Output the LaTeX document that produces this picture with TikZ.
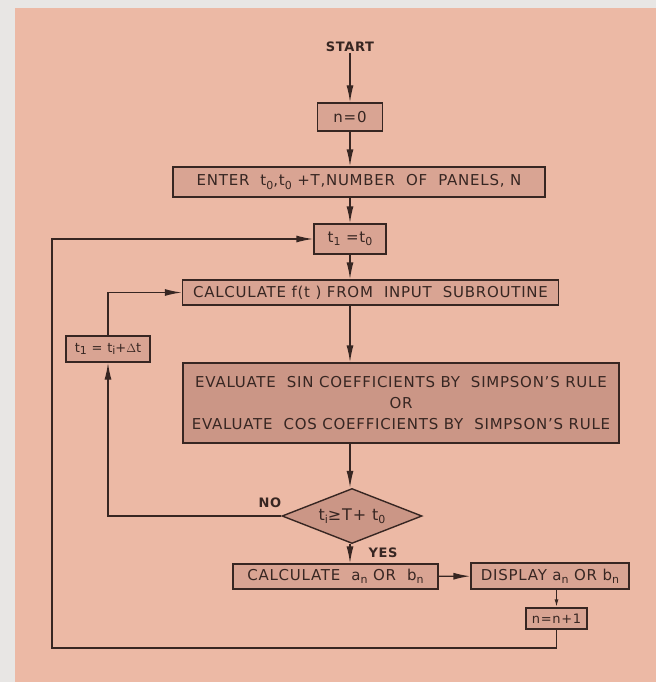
\documentclass[tikz,border=0pt]{standalone}
\usepackage{fontspec}
\setmainfont{DejaVu Sans}[LetterSpace=5]
\usepackage{tikz}
\usetikzlibrary{arrows.meta,shapes.geometric}
\usepackage{xcolor}
\definecolor{paper}{RGB}{232,230,228}
\definecolor{salmon}{RGB}{236,185,165}
\definecolor{boxfill}{RGB}{217,164,147}
\definecolor{darkfill}{RGB}{203,150,134}
\definecolor{ink}{RGB}{55,38,34}
\newcommand{\sub}[1]{\raisebox{-0.4ex}{\fontsize{11}{11}\selectfont #1}}

\begin{document}
\begin{tikzpicture}[x=1pt,y=-1pt,font=\fontsize{15}{17}\selectfont,>={Latex[length=17pt,width=7pt]},line width=1.4pt,draw=ink,text=ink,
box/.style={draw=ink,fill=boxfill,inner sep=0pt,align=center},
small/.style={font=\fontsize{13}{15}\selectfont},
lbl/.style={inner sep=0pt,font=\fontsize{13}{15}\selectfont\bfseries}]
\useasboundingbox (0,0) rectangle (656,682);
\fill[paper] (0,0) rectangle (656,682);
\fill[salmon] (15,8) rectangle (656,682);
\node[lbl](start) at (350,47){START};
\node[box,minimum width=65pt,minimum height=28pt](n0) at (350,117){n=0};
\node[box,minimum width=372pt,minimum height=30pt](enter) at (359,182){ENTER\ \ t\sub{0},t\sub{0} +T,NUMBER\ \ OF\ \ PANELS,\ N};
\node[box,minimum width=72pt,minimum height=30pt](ti0) at (350,239){t\sub{1} =t\sub{0}};
\node[box,minimum width=376pt,minimum height=25pt](calcf) at (370.5,292.5){CALCULATE f(t\ ) FROM\ \ INPUT\ \ SUBROUTINE};
\node[box,fill=darkfill,minimum width=436pt,minimum height=80pt,font=\fontsize{15}{21}\selectfont](eval) at (401,403){EVALUATE\ \ SIN COEFFICIENTS\ BY\ \ SIMPSON'S RULE\\OR\\EVALUATE\ \ COS COEFFICIENTS\ BY\ \ SIMPSON'S RULE};
\node[box,small,minimum width=84pt,minimum height=26pt](incr) at (108,349){t\sub{1} = t\sub{i}+$\Delta$t};
\node[box,diamond,fill=darkfill,minimum width=140pt,minimum height=55pt,aspect=2.55,font=\fontsize{16}{18}\selectfont](test) at (352,516){t\sub{i}≥T+ t\sub{0}};
\node[lbl](no) at (270,503){NO};
\node[lbl](yes) at (383,553){YES};
\node[box,minimum width=205pt,minimum height=25pt](calcan) at (335.5,576.5){CALCULATE\ \ a\sub{n} OR\ \ b\sub{n}};
\node[box,minimum width=158pt,minimum height=26pt](disp) at (550,576){DISPLAY a\sub{n}\ OR\ b\sub{n}};
\node[box,small,minimum width=61pt,minimum height=21pt](nn1) at (556.5,618.5){n=n+1};
\coordinate(lb) at (52,648);
\draw[->](start)--(n0);\draw[->](n0)--(n0|-enter.north);\draw[->](n0|-enter.south)--(ti0);\draw[->](ti0)--(ti0|-calcf.north);
\draw[->](ti0|-calcf.south)--(ti0|-eval.north);\draw[->](ti0|-eval.south)--(ti0|-test.north);\draw[->](ti0|-test.south)--(ti0|-calcan.north);
\draw[->](calcan)--(disp);\draw[-{Latex[length=8pt,width=4pt]}](nn1|-disp.south)--(nn1);
\draw[->](test.west)-|(incr.south);\draw[->](incr.north)|-(calcf.west);
\draw[->](nn1.south)|-(lb)|-(ti0.west);
\end{tikzpicture}
\end{document}
